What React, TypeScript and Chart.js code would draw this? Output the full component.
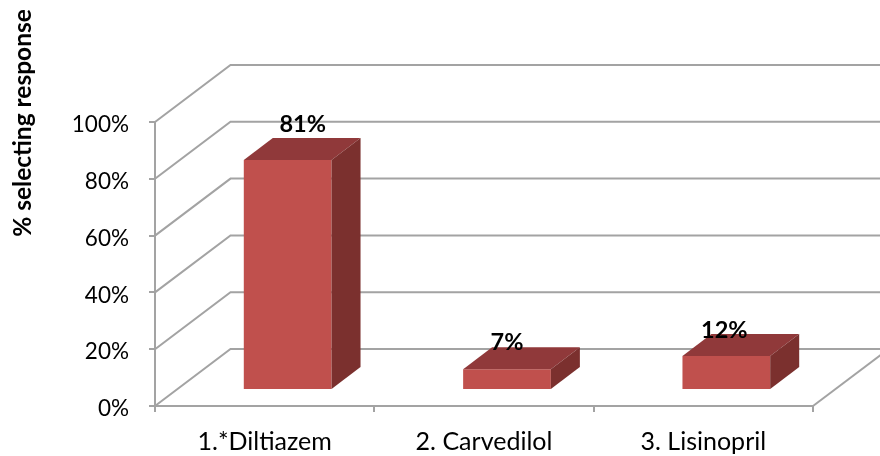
import React, { useEffect, useRef } from "react";
import { Chart, registerables } from "chart.js";

Chart.register(...registerables);

const categories = ["1.*Diltiazem", "2. Carvedilol", "3. Lisinopril"];
const responses = [81, 7.3, 12];
const valueLabels = ["81%", "7%", "12%"];
const axisTitle = "% selecting response";

const FONT = "Lato, Carlito, sans-serif";
const GRID = "#a3a3a3";
const FRONT = "#c0504d";
const TOP = "#90393a";
const SIDE = "#7b302e";
const WALL = { dx: 75.5, dy: 57 };
const BAR_SHIFT = { dx: 23, dy: 16 };
const BAR_DEPTH = { dx: 29, dy: 22 };
const LABEL_NUDGE = [
  { x: 15, y: -36 },
  { x: 0, y: -27 },
  { x: -2, y: -25 },
];

const box3d = {
  id: "box3d",
  beforeDatasetsDraw(chart: any) {
    const { ctx, scales, chartArea } = chart;
    ctx.save();
    ctx.strokeStyle = GRID;
    ctx.lineWidth = 2;
    ctx.lineJoin = "miter";
    scales.y.ticks.forEach((t: any) => {
      const y = scales.y.getPixelForValue(t.value);
      ctx.beginPath();
      ctx.moveTo(chartArea.left, y);
      ctx.lineTo(chartArea.left + WALL.dx, y - WALL.dy);
      ctx.lineTo(chartArea.right + WALL.dx, y - WALL.dy);
      ctx.stroke();
    });
    ctx.beginPath();
    ctx.moveTo(chartArea.right, chartArea.bottom);
    ctx.lineTo(chartArea.right + WALL.dx, chartArea.bottom - WALL.dy);
    ctx.stroke();
    ctx.restore();
  },
  beforeDatasetDraw(chart: any) {
    const { ctx } = chart;
    ctx.save();
    ctx.translate(BAR_SHIFT.dx, -BAR_SHIFT.dy);
  },
  afterDatasetDraw(chart: any) {
    const { ctx } = chart;
    chart.getDatasetMeta(0).data.forEach((bar: any) => {
      const half = bar.width / 2;
      const x0 = bar.x - half;
      const x1 = bar.x + half;
      const top = bar.y;
      const base = bar.base;
      ctx.fillStyle = TOP;
      ctx.beginPath();
      ctx.moveTo(x0, top);
      ctx.lineTo(x0 + BAR_DEPTH.dx, top - BAR_DEPTH.dy);
      ctx.lineTo(x1 + BAR_DEPTH.dx, top - BAR_DEPTH.dy);
      ctx.lineTo(x1, top);
      ctx.closePath();
      ctx.fill();
      ctx.fillStyle = SIDE;
      ctx.beginPath();
      ctx.moveTo(x1, top);
      ctx.lineTo(x1 + BAR_DEPTH.dx, top - BAR_DEPTH.dy);
      ctx.lineTo(x1 + BAR_DEPTH.dx, base - BAR_DEPTH.dy);
      ctx.lineTo(x1, base);
      ctx.closePath();
      ctx.fill();
    });
    ctx.restore();
  },
  afterDatasetsDraw(chart: any) {
    const { ctx } = chart;
    ctx.save();
    ctx.fillStyle = "#000";
    ctx.font = `bold 23.5px ${FONT}`;
    ctx.textAlign = "center";
    ctx.textBaseline = "middle";
    chart.getDatasetMeta(0).data.forEach((bar: any, i: number) => {
      ctx.fillText(
        valueLabels[i],
        bar.x + BAR_SHIFT.dx + LABEL_NUDGE[i].x,
        bar.y - BAR_SHIFT.dy + LABEL_NUDGE[i].y
      );
    });
    ctx.translate(23, 123);
    ctx.rotate(-Math.PI / 2);
    ctx.font = `bold 24.5px ${FONT}`;
    ctx.fillText(axisTitle, 0, 0);
    ctx.restore();
  },
};

export default function App() {
  const ref = useRef<HTMLCanvasElement>(null);
  useEffect(() => {
    const chart = new Chart(ref.current!, {
      type: "bar",
      data: {
        labels: categories,
        datasets: [
          {
            label: axisTitle,
            data: responses,
            backgroundColor: FRONT,
            categoryPercentage: 0.4,
            barPercentage: 1,
          },
        ],
      },
      options: {
        responsive: false,
        animation: false,
        layout: { padding: { top: 122, right: 67, left: 0, bottom: 0 } },
        plugins: { legend: { display: false }, tooltip: { enabled: false } },
        scales: {
          x: {
            afterFit: (s: any) => {
              s.height = 50;
            },
            border: { color: GRID, width: 2 },
            grid: { color: GRID, lineWidth: 2, drawOnChartArea: false, tickLength: 6, offset: true },
            ticks: { color: "#000", padding: 15, maxRotation: 0, font: { family: FONT, size: 25 } },
          },
          y: {
            min: 0,
            max: 100,
            afterFit: (s: any) => {
              s.width = 155;
            },
            border: { color: GRID, width: 2 },
            grid: { color: GRID, lineWidth: 2, drawOnChartArea: false, tickLength: 6 },
            ticks: {
              color: "#000",
              stepSize: 20,
              padding: 20,
              labelOffset: 3,
              font: { family: FONT, size: 22.5 },
              callback: (v: any) => `${v}%`,
            },
          },
        },
      },
      plugins: [box3d],
    });
    return () => chart.destroy();
  }, []);
  return (
    <canvas
      ref={ref}
      width={880}
      height={456}
      style={{ position: "fixed", left: 0, top: 0, display: "block", background: "#fff" }}
    />
  );
}
